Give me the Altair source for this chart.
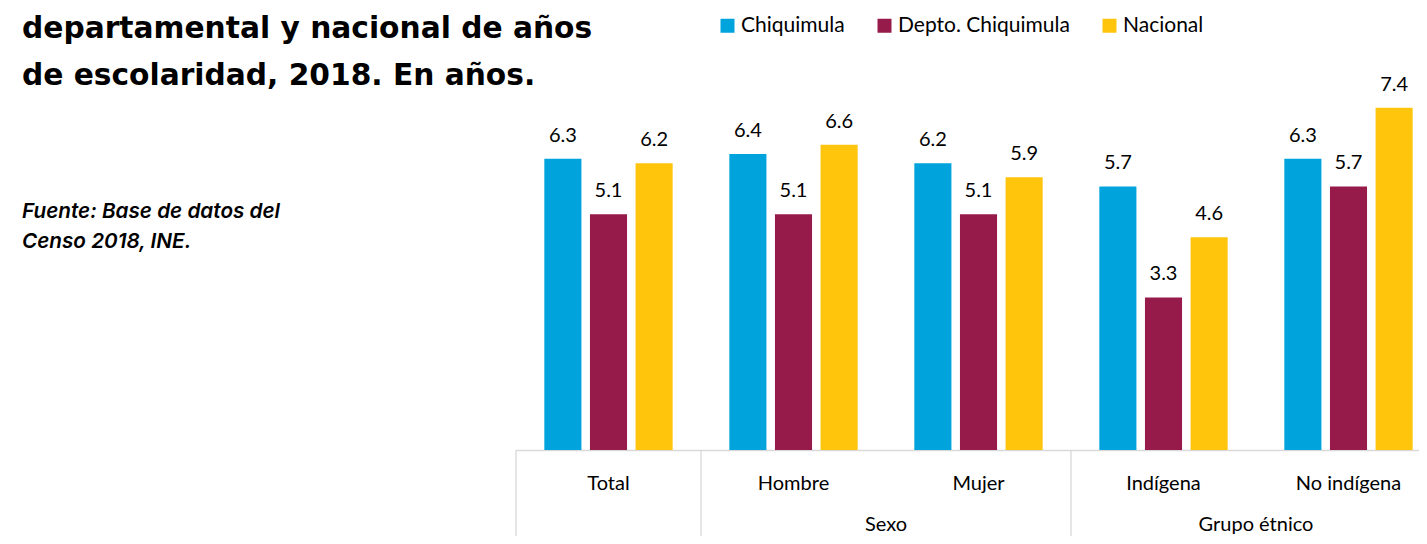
import altair as alt
import pandas as pd

categories = ["Total", "Hombre", "Mujer", "Indígena", "No indígena"]
series = ["Chiquimula", "Depto. Chiquimula", "Nacional"]
chiquimula = [6.3, 6.4, 6.2, 5.7, 6.3]
depto = [5.1, 5.1, 5.1, 3.3, 5.7]
nacional = [6.2, 6.6, 5.9, 4.6, 7.4]
colors = ["#00A3DB", "#961A4A", "#FFC50D"]

group_labels = ["Sexo", "Grupo étnico"]
group_anchor = ["Hombre", "Indígena"]
separator_at = ["Total", "Hombre", "Indígena"]

title_lines = ["departamental y nacional de años", "de escolaridad, 2018. En años."]
source_lines = ["Fuente: Base de datos del", "Censo 2018, INE."]

rows = []
for i, c in enumerate(categories):
    for s, vals in zip(series, [chiquimula, depto, nacional]):
        rows.append({"cat": c, "serie": s, "valor": vals[i]})
df = pd.DataFrame(rows)

W, H = 903, 370
LABEL_FONT = "Lato"

xscale = alt.Scale(domain=categories, range=[0, 925], paddingInner=0, paddingOuter=0)
x_enc = alt.X("cat:N", sort=categories, scale=xscale, axis=alt.Axis(
    title=None, labels=False, ticks=False, domain=True,
    domainColor="#d9d9d9", domainWidth=1.3, grid=False))
xoff = alt.XOffset("serie:N", sort=series,
                   scale=alt.Scale(domain=series, paddingInner=0.187, paddingOuter=0.621))
y_enc = alt.Y("valor:Q", scale=alt.Scale(domain=[0, 8], nice=False), axis=None)

base = alt.Chart(df)

bars = base.mark_bar().encode(
    x=x_enc,
    xOffset=xoff,
    y=y_enc,
    color=alt.Color("serie:N", sort=series,
                    scale=alt.Scale(domain=series, range=colors),
                    legend=alt.Legend(
                        title=None, orient="none", direction="horizontal",
                        legendX=201, legendY=-65, symbolType="square",
                        symbolSize=196, symbolStrokeWidth=0, labelOffset=3,
                        columnPadding=29, labelFont=LABEL_FONT, labelFontSize=21,
                        labelColor="#000000", labelLimit=400, padding=0)),
)

values = base.mark_text(font=LABEL_FONT, fontSize=20, color="#000000",
                        baseline="alphabetic", dy=-17).encode(
    x=alt.X("cat:N", sort=categories),
    xOffset=alt.XOffset("serie:N", sort=series),
    y=y_enc,
    text=alt.Text("valor:Q", format=".1f"),
)

cat_df = pd.DataFrame({"cat": categories})
cat_text = alt.Chart(cat_df).mark_text(font=LABEL_FONT, fontSize=20, color="#000000",
                                       baseline="middle").encode(
    x=alt.X("cat:N", sort=categories),
    y=alt.value(H + 34),
    text="cat:N",
)

grp_df = pd.DataFrame({"cat": group_anchor, "label": group_labels})
grp_text = alt.Chart(grp_df).mark_text(font=LABEL_FONT, fontSize=20, color="#000000",
                                       baseline="alphabetic").encode(
    x=alt.X("cat:N", sort=categories, bandPosition=1),
    y=alt.value(H + 81),
    text="label:N",
)

sep_df = pd.DataFrame({"cat": separator_at})
seps = alt.Chart(sep_df).mark_rule(color="#d9d9d9", strokeWidth=1.3).encode(
    x=alt.X("cat:N", sort=categories, bandPosition=0),
    y=alt.value(H),
    y2=alt.value(H + 110),
)

title_df = pd.DataFrame({"t": ["\n".join(title_lines)]})
title = alt.Chart(title_df).mark_text(font="DejaVu Sans", fontWeight="bold", fontSize=29.7,
                                      align="left", baseline="alphabetic", lineBreak="\n",
                                      lineHeight=47.5, color="#000000").encode(
    x=alt.value(-494),
    y=alt.value(-42.5),
    text="t:N",
)

src_df = pd.DataFrame({"t": ["\n".join(source_lines)]})
source = alt.Chart(src_df).mark_text(font="Inter", fontWeight=600, fontStyle="italic",
                                     fontSize=20.7, align="left", baseline="alphabetic",
                                     lineBreak="\n", lineHeight=30,
                                     color="#000000").encode(
    x=alt.value(-494),
    y=alt.value(138),
    text="t:N",
)

chart = alt.layer(seps, bars, values, cat_text, grp_text, title, source).properties(
    width=W, height=H,
    autosize=alt.AutoSizeParams(type="none"),
    padding={"left": 508, "top": 72, "right": 0, "bottom": 86},
    background="white",
).configure_view(stroke=None)

chart.save("out.html", embed_options={"renderer": "svg", "actions": False})
